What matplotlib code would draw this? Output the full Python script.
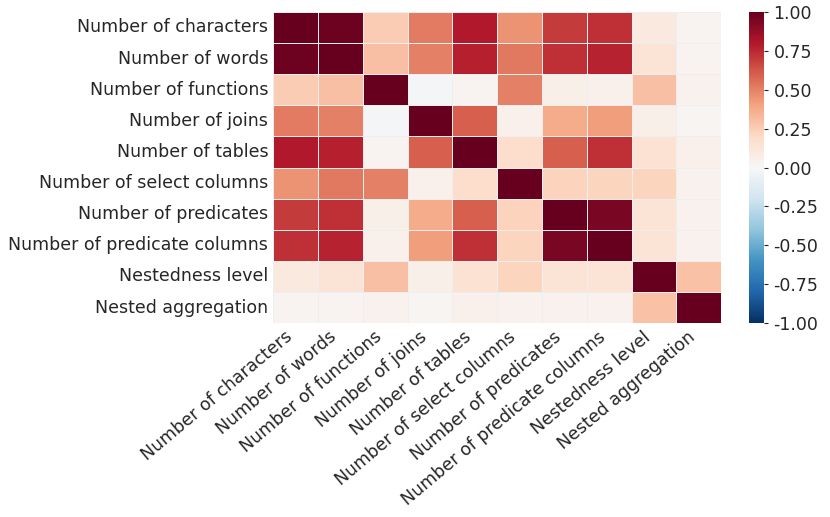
import numpy as np
import pandas as pd
import matplotlib
matplotlib.use('Agg')
import matplotlib.pyplot as plt
import seaborn as sns

sns.set_style('white')
plt.rcParams['font.family'] = ['DejaVu Sans']
plt.rcParams['text.color'] = '#262626'
plt.rcParams['xtick.color'] = '#262626'
plt.rcParams['ytick.color'] = '#262626'

labels = ['Number of characters', 'Number of words', 'Number of functions',
          'Number of joins', 'Number of tables', 'Number of select columns',
          'Number of predicates', 'Number of predicate columns',
          'Nestedness level', 'Nested aggregation']

r_chars = [1.00, 0.98, 0.25, 0.52, 0.80, 0.45, 0.70, 0.73, 0.10, 0.03]
r_words = [0.98, 1.00, 0.30, 0.50, 0.78, 0.53, 0.73, 0.77, 0.14, 0.03]
r_funcs = [0.25, 0.30, 1.00, -0.02, 0.03, 0.50, 0.06, 0.05, 0.30, 0.04]
r_joins = [0.52, 0.50, -0.02, 1.00, 0.60, 0.05, 0.37, 0.42, 0.06, 0.02]
r_tables = [0.80, 0.78, 0.03, 0.60, 1.00, 0.18, 0.60, 0.73, 0.15, 0.05]
r_select = [0.45, 0.53, 0.50, 0.05, 0.18, 1.00, 0.23, 0.22, 0.22, 0.04]
r_preds = [0.70, 0.73, 0.06, 0.37, 0.60, 0.23, 1.00, 0.95, 0.14, 0.04]
r_predcols = [0.73, 0.77, 0.05, 0.42, 0.73, 0.22, 0.95, 1.00, 0.14, 0.04]
r_nest = [0.10, 0.14, 0.30, 0.06, 0.15, 0.22, 0.14, 0.14, 1.00, 0.29]
r_nestagg = [0.03, 0.03, 0.04, 0.02, 0.05, 0.04, 0.04, 0.04, 0.29, 1.00]

corr = pd.DataFrame([r_chars, r_words, r_funcs, r_joins, r_tables, r_select,
                     r_preds, r_predcols, r_nest, r_nestagg],
                    index=labels, columns=labels)

fig = plt.figure(figsize=(8.3, 5.17), dpi=100)
ax = fig.add_axes([0.329, 0.375, 0.540, 0.602])
cax = fig.add_axes([0.902, 0.375, 0.019, 0.602])

sns.heatmap(corr, ax=ax, cbar_ax=cax, cmap='RdBu_r', vmin=-1, vmax=1,
            linewidths=0.5, linecolor='#eeeeee')

ax.tick_params(length=0, labelsize=12.5)
ax.set_xticklabels(labels, rotation=40, ha='right')
ax.set_yticklabels(labels, rotation=0)
cax.tick_params(labelsize=12.5, length=3, width=0.8)
cax.set_yticks([-1, -0.75, -0.5, -0.25, 0, 0.25, 0.5, 0.75, 1])
cax.set_yticklabels(['%.2f' % t for t in [-1, -0.75, -0.5, -0.25, 0, 0.25, 0.5, 0.75, 1]])

fig.savefig('out.png', dpi=100)
